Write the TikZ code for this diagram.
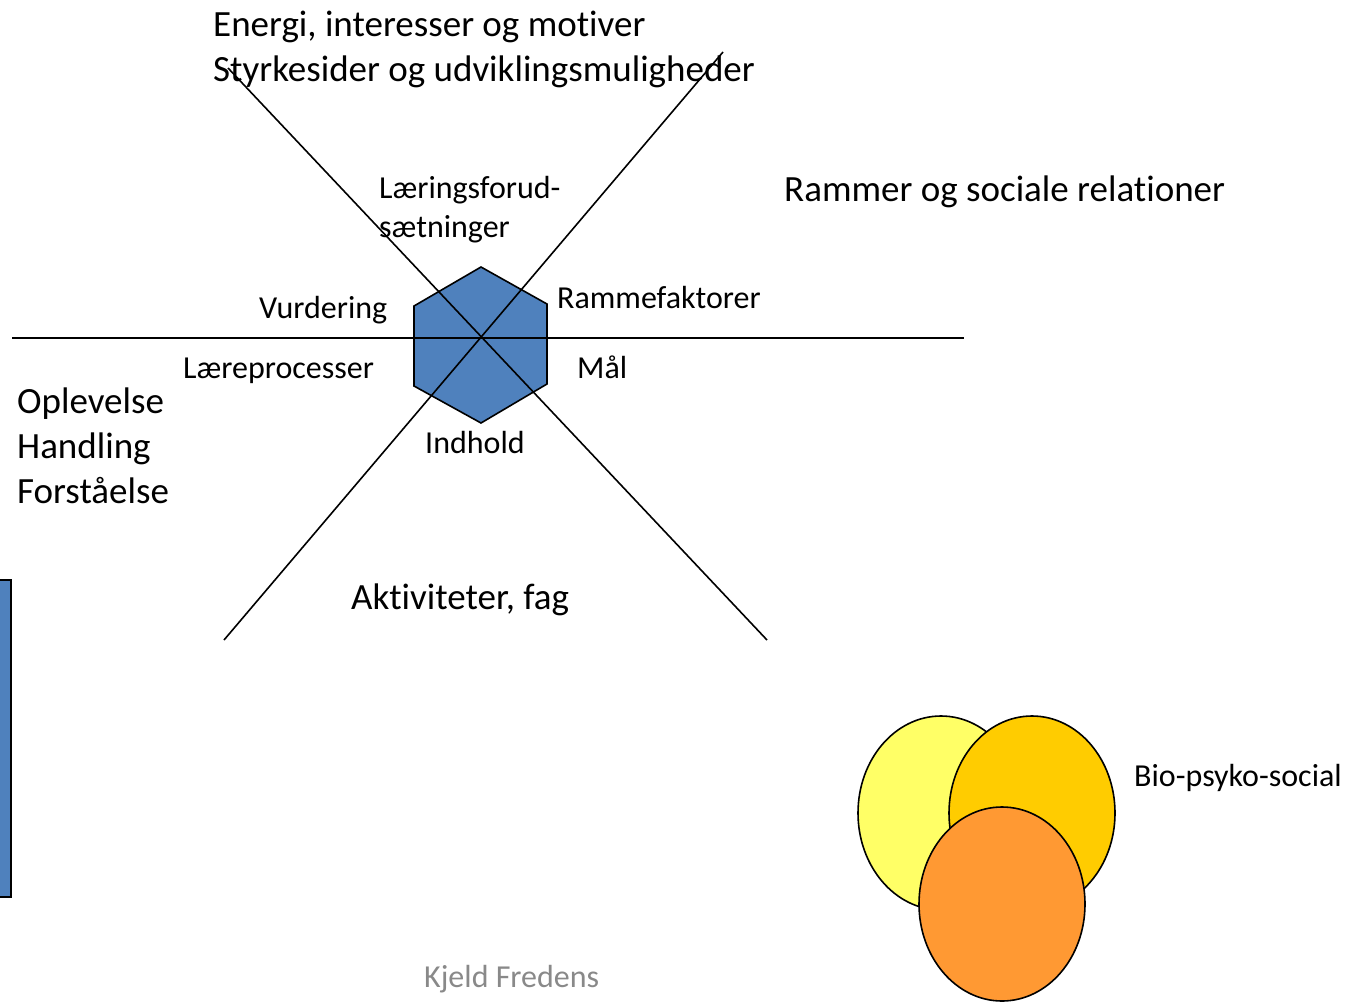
\documentclass[tikz,border=0pt]{standalone}
\usepackage{fontspec}
\setmainfont{Carlito}[Ligatures=NoCommon]
\usepackage{tikz}
\usetikzlibrary{positioning}
\definecolor{hexblue}{HTML}{4F81BD}
\definecolor{bioyellow}{HTML}{FFFF66}
\definecolor{biogold}{HTML}{FFCC00}
\definecolor{bioorange}{HTML}{FF9933}
\definecolor{footgray}{HTML}{898989}
\tikzset{axis/.style = {line width=1.6pt, black},
         lbl/.style = {anchor=base west, inner sep=0pt, font=\fontsize{32}{39}\selectfont},
         biglbl/.style = {anchor=base west, inner sep=0pt, font=\fontsize{37}{45}\selectfont},
         blob/.style = {draw=black, line width=1.6pt}}

\begin{document}
\begin{tikzpicture}[x=1pt, y=-1pt]
      \useasboundingbox (0, 0) rectangle (1356, 1001);
      % axes through the hexagon
      \coordinate (w) at (12, 338);
      \coordinate (e) at (964, 338);
      \coordinate (nw) at (228, 68);
      \coordinate (se) at (767, 640);
      \coordinate (ne) at (723, 52);
      \coordinate (sw) at (224, 640);
      \filldraw [fill=hexblue, draw=black, line width=1.6pt] (481, 267) -- (547, 304) -- (547, 384) -- (481, 423) -- (414, 386) -- (414, 306) -- cycle;
      \draw [axis] (w) -- (e);
      \draw [axis] (nw) -- (se);
      \draw [axis] (ne) -- (sw);
      % labels
      \node [biglbl] (energi) at (213, 36) {Energi, interesser og motiver};
      \node [biglbl] (styrke) at (213, 81) {Styrkesider og udviklingsmuligheder};
      \node [lbl] (laering) at (379, 198) {Læringsforud-};
      \node [lbl] (saetning) at (379, 237) {sætninger};
      \node [biglbl] (rammer) at (784, 201) {Rammer og sociale relationer};
      \node [lbl] (ramme) at (557, 308) {Rammefaktorer};
      \node [lbl] (vurd) at (259, 318) {Vurdering};
      \node [lbl] (laere) at (183, 378) {Læreprocesser};
      \node [lbl] (maal) at (577, 378) {Mål};
      \node [lbl] (indhold) at (425, 453) {Indhold};
      \node [biglbl] (oplev) at (17, 413) {Oplevelse};
      \node [biglbl] (handl) at (17, 458) {Handling};
      \node [biglbl] (forst) at (17, 503) {Forståelse};
      \node [biglbl] (aktiv) at (351, 609) {Aktiviteter, fag};
      % side bar
      \filldraw [fill=hexblue, draw=black, line width=1.8pt] (-20, 580) rectangle (11, 897);
      % bio-psyko-social
      \filldraw [blob, fill=bioyellow] (941, 813) ellipse [x radius=83, y radius=97];
      \filldraw [blob, fill=biogold] (1032, 813) ellipse [x radius=83, y radius=97];
      \filldraw [blob, fill=bioorange] (1002, 904) ellipse [x radius=83, y radius=97];
      \node [lbl] (bio) at (1134, 786) {Bio-psyko-social};
      \node [lbl, text=footgray] (kjeld) at (424, 987) {Kjeld Fredens};
    \end{tikzpicture}
\end{document}
